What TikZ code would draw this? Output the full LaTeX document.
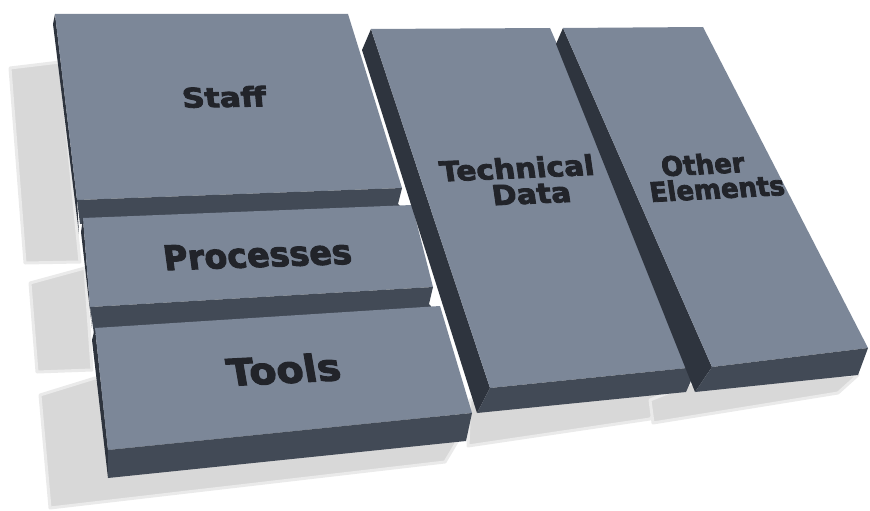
\documentclass[tikz,border=0pt]{standalone}
\usepackage{fontspec}
\newfontfamily\blockfont{DejaVu Sans Bold}[FakeBold=3]
\definecolor{topface}{RGB}{124,135,152}
\definecolor{frontface}{RGB}{66,74,86}
\definecolor{sideface}{RGB}{46,52,62}
\definecolor{castshadow}{RGB}{216,216,216}
\definecolor{labelink}{RGB}{34,36,42}
\tikzset{
  topfc/.style={fill=topface},
  frontfc/.style={fill=frontface},
  sidefc/.style={fill=sideface},
  castsh/.style={fill=castshadow, draw=castshadow!55, line width=3pt, line join=round},
  blocklabel/.style={text=labelink, inner sep=0pt, anchor=base, align=center}
}
\begin{document}
\begin{tikzpicture}[x=1pt, y=-1pt]
  \useasboundingbox (0,0) rectangle (870,511);

  % soft shadows cast onto the floor
  \path[castsh] (10,68) -- (60,62) -- (80,262) -- (25,263) -- cycle;
  \path[castsh] (30,283) -- (85,268) -- (92,370) -- (37,372) -- cycle;
  \path[castsh] (40,395) -- (95,378) -- (470,420) -- (445,462) -- (50,508) -- cycle;
  \path[castsh] (470,400) -- (697,367) -- (650,419) -- (468,446) -- cycle;
  \path[castsh] (700,380) -- (858,375) -- (838,393) -- (653,423) -- (650,400) -- cycle;

  % Staff block (front face runs on behind Processes)
  \path[sidefc]  (55,14) -- (77,200) -- (79,234) -- (53,24) -- cycle;
  \path[topfc]   (55,14) -- (348,14) -- (402,188) -- (77,200) -- cycle;
  \path[frontfc] (77,200) -- (402,188) -- (398,204) -- (404,210) -- (80,224) -- cycle;

  % Processes block (front face runs on behind Tools)
  \path[sidefc]  (83,218) -- (90,307) -- (92,328) -- (81,232) -- cycle;
  \path[topfc]   (83,218) -- (412,205) -- (433,287) -- (90,307) -- cycle;
  \path[frontfc] (90,307) -- (433,287) -- (429,304) -- (436,312) -- (94,334) -- cycle;

  % Tools block
  \path[sidefc]  (95,328) -- (108,450) -- (108,478) -- (92,340) -- cycle;
  \path[topfc]   (95,328) -- (440,306) -- (472,413) -- (108,450) -- cycle;
  \path[frontfc] (108,450) -- (472,413) -- (466,441) -- (108,478) -- cycle;

  % Technical Data block
  \path[sidefc]  (371,29) -- (490,388) -- (477,413) -- (362,50) -- cycle;
  \path[topfc]   (371,29) -- (550,28) -- (697,367) -- (490,388) -- cycle;
  \path[frontfc] (490,388) -- (697,367) -- (686,392) -- (477,413) -- cycle;

  % Other Elements block
  \path[sidefc]  (563,28) -- (712,367) -- (695,392) -- (556,44) -- cycle;
  \path[topfc]   (563,28) -- (703,27) -- (868,348) -- (712,367) -- cycle;
  \path[frontfc] (712,367) -- (868,348) -- (858,375) -- (695,392) -- cycle;

  % labels on the top faces (two-line labels sit on their last baseline)
  \node[blocklabel, rotate=1, xslant=-0.08, xscale=1.16,
        font={\blockfont\fontsize{27}{30}\selectfont}] (staff) at (225,107) {Staff};
  \node[blocklabel, rotate=2, xslant=-0.1, xscale=0.98,
        font={\blockfont\fontsize{34}{38}\selectfont}] (processes) at (259,267) {Processes};
  \node[blocklabel, rotate=3, xslant=-0.12, xscale=1.07,
        font={\blockfont\fontsize{37}{40}\selectfont}] (tools) at (286,383) {Tools};
  \node[blocklabel, rotate=2.5, xslant=-0.1, xscale=1.08,
        font={\blockfont\fontsize{27.5}{26}\selectfont}] (techdata) at (522,204)
    {Technical\\\hspace*{20pt}Data};
  \node[blocklabel, rotate=3, xslant=-0.1, xscale=0.96,
        font={\blockfont\fontsize{27}{25}\selectfont}] (otherel) at (708,199)
    {Other\\\hspace*{22pt}Elements};
\end{tikzpicture}
\end{document}
